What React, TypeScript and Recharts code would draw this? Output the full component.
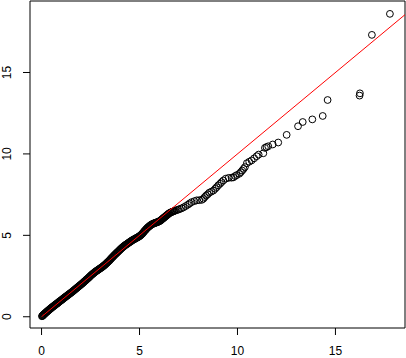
import React from 'react';
import { ScatterChart, Scatter, XAxis, YAxis, ReferenceArea } from 'recharts';

// theoretical quantiles (x) and sample quantiles (y)
const qx = [
  0.02, 0.06, 0.10, 0.14, 0.18, 0.22, 0.27, 0.31, 0.36, 0.40, 0.45, 0.50, 0.55, 0.60, 0.65, 0.70,
  0.75, 0.80, 0.86, 0.91, 0.96, 1.02, 1.07, 1.13, 1.18, 1.24, 1.30, 1.35, 1.41, 1.47, 1.53, 1.59,
  1.65, 1.71, 1.77, 1.83, 1.89, 1.95, 2.01, 2.07, 2.13, 2.19, 2.25, 2.31, 2.37, 2.43, 2.49, 2.55,
  2.61, 2.67, 2.73, 2.79, 2.85, 2.91, 2.97, 3.03, 3.09, 3.15, 3.21, 3.27, 3.33, 3.39, 3.45, 3.51,
  3.57, 3.63, 3.69, 3.75, 3.81, 3.87, 3.93, 3.99, 4.05, 4.11, 4.17, 4.23, 4.29, 4.35, 4.41, 4.47,
  4.53, 4.59, 4.65, 4.71, 4.77, 4.83, 4.89, 4.95, 5.01, 5.07, 5.13, 5.19, 5.25, 5.31, 5.37, 5.43,
  5.49, 5.55, 5.61, 5.67, 5.73, 5.79, 5.85, 5.91, 5.97, 6.03, 6.09, 6.15, 6.21, 6.27, 6.33, 6.39,
  6.45, 6.51, 6.58, 6.66, 6.74, 6.82, 6.90, 6.98, 7.06, 7.15, 7.25, 7.36, 7.47, 7.56, 7.66, 7.80,
  7.92, 8.05, 8.18, 8.26, 8.33, 8.40, 8.48, 8.56, 8.66, 8.77, 8.86, 8.94, 9.02, 9.11, 9.19, 9.28,
  9.40, 9.55, 9.70, 9.79, 9.88, 9.96, 10.09, 10.17, 10.24, 10.31, 10.38, 10.48, 10.60, 10.72, 10.85, 10.98,
  11.08, 11.32, 11.40, 11.48, 11.57, 11.80, 12.08, 12.51, 13.09, 13.33, 13.82, 14.35, 14.60, 16.23, 16.25, 16.86,
  17.78,
];
const qy = [
  0.03, 0.07, 0.12, 0.17, 0.21, 0.26, 0.31, 0.35, 0.40, 0.45, 0.49, 0.54, 0.59, 0.64, 0.68, 0.73,
  0.78, 0.83, 0.88, 0.93, 0.98, 1.03, 1.08, 1.14, 1.19, 1.24, 1.29, 1.34, 1.39, 1.45, 1.50, 1.56,
  1.62, 1.68, 1.74, 1.80, 1.86, 1.92, 1.98, 2.04, 2.10, 2.17, 2.23, 2.30, 2.36, 2.43, 2.50, 2.57,
  2.63, 2.69, 2.75, 2.80, 2.85, 2.90, 2.95, 3.00, 3.05, 3.11, 3.17, 3.23, 3.30, 3.37, 3.44, 3.52,
  3.60, 3.67, 3.75, 3.82, 3.89, 3.96, 4.03, 4.10, 4.17, 4.24, 4.30, 4.36, 4.41, 4.46, 4.51, 4.56,
  4.61, 4.66, 4.71, 4.75, 4.79, 4.83, 4.87, 4.91, 4.96, 5.02, 5.09, 5.17, 5.26, 5.34, 5.42, 5.49,
  5.55, 5.61, 5.66, 5.70, 5.73, 5.76, 5.78, 5.81, 5.84, 5.88, 5.93, 5.99, 6.05, 6.11, 6.17, 6.23,
  6.29, 6.35, 6.40, 6.44, 6.48, 6.52, 6.55, 6.58, 6.62, 6.66, 6.72, 6.80, 6.88, 6.96, 7.04, 7.10,
  7.15, 7.16, 7.18, 7.25, 7.35, 7.44, 7.52, 7.62, 7.68, 7.75, 7.86, 7.96, 8.07, 8.17, 8.27, 8.37,
  8.48, 8.53, 8.54, 8.56, 8.64, 8.70, 8.78, 8.88, 8.98, 9.08, 9.19, 9.43, 9.52, 9.60, 9.73, 9.86,
  9.96, 10.04, 10.37, 10.42, 10.47, 10.58, 10.70, 11.17, 11.70, 11.96, 12.12, 12.33, 13.31, 13.58, 13.72, 17.31,
  18.60,
];
// more observations inside the dense band (0 to 6.8)
const bandX = [
  0.04, 0.08, 0.12, 0.16, 0.20, 0.25, 0.29, 0.33, 0.38, 0.43, 0.47, 0.52, 0.57, 0.62, 0.67, 0.72,
  0.78, 0.83, 0.88, 0.94, 0.99, 1.05, 1.10, 1.16, 1.21, 1.27, 1.33, 1.38, 1.44, 1.50, 1.56, 1.62,
  1.68, 1.74, 1.80, 1.86, 1.92, 1.98, 2.04, 2.10, 2.16, 2.22, 2.28, 2.34, 2.40, 2.46, 2.52, 2.58,
  2.64, 2.70, 2.76, 2.82, 2.88, 2.94, 3.00, 3.06, 3.12, 3.18, 3.24, 3.30, 3.36, 3.42, 3.48, 3.54,
  3.60, 3.66, 3.72, 3.78, 3.84, 3.90, 3.96, 4.02, 4.08, 4.14, 4.20, 4.26, 4.32, 4.38, 4.44, 4.50,
  4.56, 4.62, 4.68, 4.74, 4.80, 4.86, 4.92, 4.98, 5.04, 5.10, 5.16, 5.22, 5.28, 5.34, 5.40, 5.46,
  5.52, 5.58, 5.64, 5.70, 5.76, 5.82, 5.88, 5.94, 6.00, 6.06, 6.12, 6.18, 6.24, 6.30, 6.36, 6.42,
  6.48, 6.55, 6.62, 6.70, 6.78,
];
const bandY = [
  0.05, 0.10, 0.14, 0.19, 0.24, 0.28, 0.33, 0.38, 0.42, 0.47, 0.52, 0.57, 0.61, 0.66, 0.71, 0.76,
  0.80, 0.85, 0.91, 0.96, 1.00, 1.06, 1.11, 1.16, 1.21, 1.27, 1.31, 1.37, 1.42, 1.48, 1.53, 1.59,
  1.65, 1.71, 1.77, 1.83, 1.89, 1.95, 2.01, 2.07, 2.14, 2.20, 2.27, 2.33, 2.40, 2.47, 2.54, 2.60,
  2.66, 2.72, 2.78, 2.83, 2.88, 2.93, 2.98, 3.03, 3.08, 3.14, 3.20, 3.27, 3.34, 3.41, 3.48, 3.56,
  3.64, 3.71, 3.79, 3.86, 3.93, 4.00, 4.07, 4.14, 4.21, 4.27, 4.33, 4.39, 4.44, 4.49, 4.54, 4.59,
  4.64, 4.69, 4.73, 4.77, 4.81, 4.85, 4.89, 4.93, 4.99, 5.05, 5.13, 5.22, 5.30, 5.38, 5.46, 5.52,
  5.58, 5.64, 5.68, 5.72, 5.75, 5.77, 5.80, 5.83, 5.86, 5.90, 5.96, 6.02, 6.08, 6.14, 6.20, 6.26,
  6.32, 6.38, 6.42, 6.46, 6.50,
];
// reference line y = x
const lineX = [0, 18.55];
const xTicks = [0, 5, 10, 15];
const yTicks = [0, 5, 10, 15];
const xDomain = [-0.59, 18.55];
const yDomain = [-0.69, 19.39];

const points = [
  ...qx.map((x, i) => ({ x, y: qy[i] })),
  ...bandX.map((x, i) => ({ x, y: bandY[i] })),
];
const linePts = lineX.map((x) => ({ x, y: x }));

const font = '"Liberation Sans", Arial, Helvetica, sans-serif';

const Ring = (props: any) => (
  <circle cx={props.cx} cy={props.cy} r={3.4} fill="none" stroke="#000" strokeWidth={1} />
);

const NoDot = () => <g />;

const YTick = (props: any) => {
  const { x, y, payload } = props;
  return (
    <text
      x={x}
      y={y}
      transform={`rotate(-90, ${x}, ${y})`}
      textAnchor="middle"
      fontSize={12}
      fontFamily={font}
      fill="#000"
    >
      {payload.value}
    </text>
  );
};

export default function App() {
  return (
    <div style={{ position: 'absolute', left: 0, top: 0, background: '#fff' }}>
      <ScatterChart width={406} height={358} margin={{ top: 1, right: 1, bottom: 0, left: 0 }}>
        <XAxis
          type="number"
          dataKey="x"
          domain={xDomain}
          ticks={xTicks}
          allowDataOverflow
          axisLine={false}
          tickLine={{ stroke: '#000' }}
          tickSize={7}
          tickMargin={11}
          height={30}
          tick={{ fill: '#000', fontSize: 12, fontFamily: font }}
        />
        <YAxis
          type="number"
          dataKey="y"
          domain={yDomain}
          ticks={yTicks}
          allowDataOverflow
          axisLine={false}
          tickLine={{ stroke: '#000' }}
          tickSize={7}
          tickMargin={12}
          width={30}
          tick={<YTick />}
        />
        <ReferenceArea
          x1={xDomain[0]}
          x2={xDomain[1]}
          y1={yDomain[0]}
          y2={yDomain[1]}
          fill="none"
          stroke="#000"
          strokeWidth={1}
          fillOpacity={0}
        />
        <Scatter data={points} shape={<Ring />} isAnimationActive={false} />
        <Scatter
          data={linePts}
          line={{ stroke: '#ff0000', strokeWidth: 1 }}
          shape={<NoDot />}
          isAnimationActive={false}
        />
      </ScatterChart>
    </div>
  );
}
